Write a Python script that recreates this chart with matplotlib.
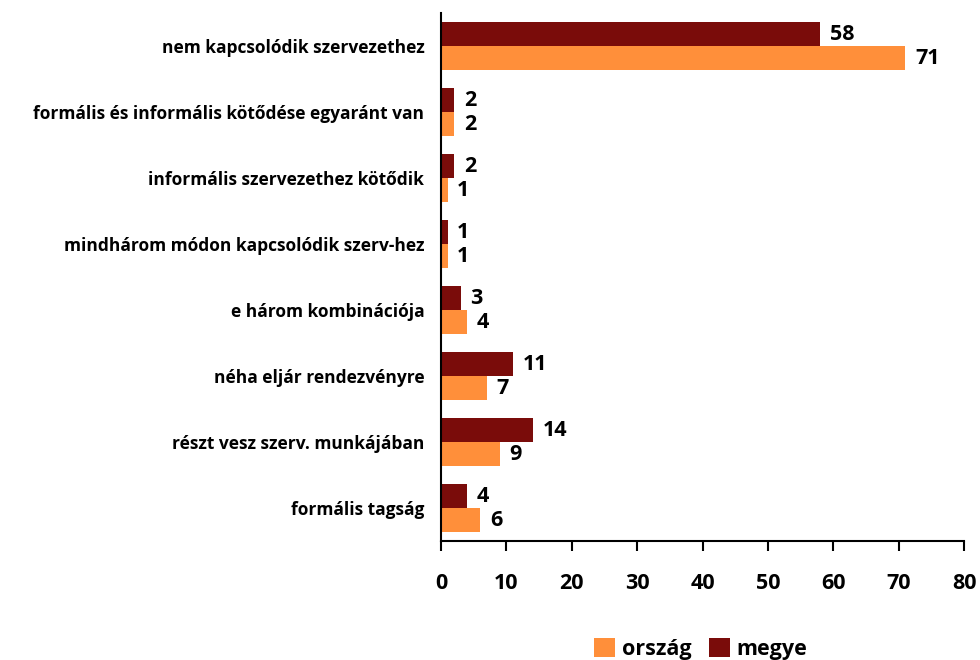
import matplotlib.pyplot as plt
import numpy as np

categories = ['formális tagság', 'részt vesz szerv. munkájában', 'néha eljár rendezvényre',
              'e három kombinációja', 'mindhárom módon kapcsolódik szerv-hez',
              'informális szervezethez kötődik', 'formális és informális kötődése egyaránt van',
              'nem kapcsolódik szervezethez']
megye = [4, 14, 11, 3, 1, 2, 2, 58]
orszag = [6, 9, 7, 4, 1, 1, 2, 71]

c_megye = '#7A0C0A'
c_orszag = '#FF8F3A'

plt.rcParams['font.family'] = ['Open Sans', 'DejaVu Sans']

fig = plt.figure(figsize=(9.8, 6.6), dpi=100)
ax = fig.add_axes([0.45, 0.18, 0.534, 0.80])

y = np.arange(len(categories))
h = 0.365
b1 = ax.barh(y + h/2, megye, height=h, color=c_megye, label='megye')
b2 = ax.barh(y - h/2, orszag, height=h, color=c_orszag, label='ország')

for bars, vals in ((b1, megye), (b2, orszag)):
    for r, v in zip(bars, vals):
        ax.annotate(str(v), (r.get_width(), r.get_y() + r.get_height()/2),
                    xytext=(7, 0), textcoords='offset points', va='center', ha='left',
                    fontsize=15.5, fontweight='bold')

ax.set_xlim(0, 80)
ax.set_ylim(-0.5, 7.5)
ax.set_xticks(range(0, 81, 10))
ax.set_yticks(y)
ax.set_yticklabels(categories, fontsize=12.5, fontweight='bold')
ax.tick_params(axis='y', length=0, pad=12)
ax.tick_params(axis='x', direction='out', length=7, width=1.5, labelsize=15.5, pad=16)
for lab in ax.get_xticklabels():
    lab.set_fontweight('bold')
ax.spines['top'].set_visible(False)
ax.spines['right'].set_visible(False)
ax.spines['left'].set_linewidth(1.5)
ax.spines['bottom'].set_linewidth(1.5)

handles = [b2, b1]
fig.legend(handles, ['ország', 'megye'], loc='center', bbox_to_anchor=(0.715, 0.017),
           ncol=2, frameon=False, prop={'size': 15.5, 'weight': 'bold'},
           handlelength=1.0, handleheight=1.0, handletextpad=0.3, columnspacing=0.8)

fig.savefig('out.png', dpi=100)
